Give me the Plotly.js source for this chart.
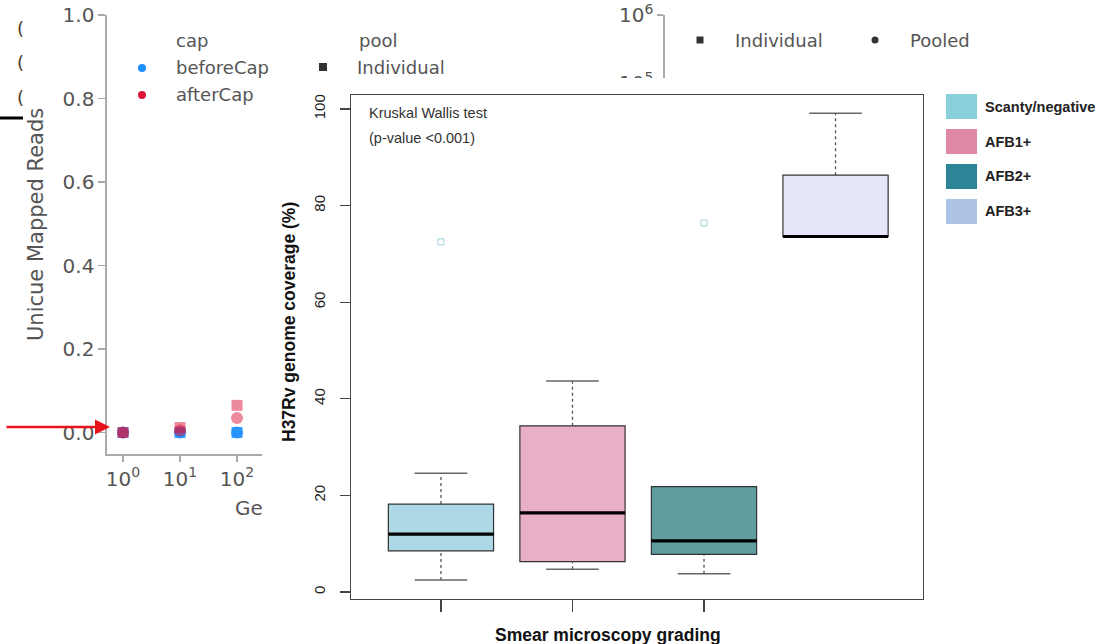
<!DOCTYPE html>
<html><head><meta charset="utf-8">
<script src="https://cdn.plot.ly/plotly-3.0.1.min.js"></script>
<style>
html,body{margin:0;padding:0;background:#fff;overflow:hidden;}
#bg{position:absolute;left:0;top:0;width:1100px;height:644px;}
#fg{position:absolute;left:262px;top:78px;width:838px;height:566px;}
</style></head><body>
<div id="bg"></div><div id="fg"></div>
<script>
// ---------- background chart data ----------
const genomes = [1, 10, 100];
const beforeCapIndividual = [0, 0, 0];
const beforeCapPooled = [0, 0, 0];
const afterCapIndividual = [0, 0.012, 0.065];
const afterCapPooled = [0, 0.005, 0.035];
const leftYTicks = [0, 0.2, 0.4, 0.6, 0.8, 1.0];
const leftXTicks = [1, 10, 100];
const leftXTickText = ['10<sup>0</sup>', '10<sup>1</sup>', '10<sup>2</sup>'];
const rightYTicks = [1e5, 1e6];
const rightYTickText = ['10<sup>5</sup>', '10<sup>6</sup>'];
const capLabels = ['beforeCap', 'afterCap'];
const poolLabels = ['Individual', 'Pooled'];

// ---------- boxplot data ----------
const groups = ['Scanty/negative', 'AFB1+', 'AFB2+', 'AFB3+'];
const positions = [1, 2, 3, 4];
const lowerWhisker = [2.5, 4.7, 3.8, 73.6];
const q1 = [8.5, 6.3, 7.8, 73.6];
const median = [12.0, 16.4, 10.6, 73.6];
const q3 = [18.2, 34.4, 21.8, 86.3];
const upperWhisker = [24.6, 43.7, 21.8, 99.1];
const outlierPos = [1, 3];
const outlierValue = [72.5, 76.4];
const coverageTicks = [0, 20, 40, 60, 80, 100];
const xTickPos = [1, 2, 3];

const boxFill = ['#add8e6', '#e8afc7', '#5f9ea0', '#e6e6fa'];
const legendFill = ['#88cfdc', '#df88a8', '#2c8597', '#adc3e5'];

// ================= BACKGROUND =================
const W = 1100, H = 644;
const px = x => x / W, py = y => 1 - y / H;
const grey = '#555', axisGrey = '#aaa';
const dv = 'DejaVu Sans';

const blue = 'rgba(30,144,255,0.8)', red = 'rgba(220,20,60,0.5)';
const bgTraces = [
  {type:'scatter', mode:'markers', x:genomes, y:beforeCapPooled, marker:{symbol:'circle', size:12, color:blue}, hoverinfo:'skip'},
  {type:'scatter', mode:'markers', x:genomes, y:beforeCapIndividual, marker:{symbol:'square', size:11, color:blue}, hoverinfo:'skip'},
  {type:'scatter', mode:'markers', x:genomes, y:afterCapIndividual, marker:{symbol:'square', size:11, color:red}, hoverinfo:'skip'},
  {type:'scatter', mode:'markers', x:genomes, y:afterCapPooled, marker:{symbol:'circle', size:12, color:red}, hoverinfo:'skip'},
  {type:'scatter', mode:'markers', x:[], y:[], xaxis:'x2', yaxis:'y2', hoverinfo:'skip'}
];

const axCommon = {showgrid:false, zeroline:false, showline:true, linecolor:axisGrey, linewidth:1.6,
  ticks:'outside', tickcolor:axisGrey, tickwidth:1.4, tickfont:{family:dv, size:20, color:grey}};

const bgShapes = [
  {type:'line', xref:'paper', yref:'paper', x0:px(0), x1:px(23), y0:py(118), y1:py(118), line:{color:'#000', width:3}},
  {type:'circle', xref:'paper', yref:'paper', x0:px(138), x1:px(146), y0:py(64), y1:py(72), fillcolor:'#1e90ff', line:{width:0}},
  {type:'circle', xref:'paper', yref:'paper', x0:px(138), x1:px(146), y0:py(91), y1:py(99), fillcolor:'#dc143c', line:{width:0}},
  {type:'rect', xref:'paper', yref:'paper', x0:px(319), x1:px(327), y0:py(63), y1:py(71), fillcolor:'#333', line:{width:0}},
  {type:'rect', xref:'paper', yref:'paper', x0:px(696.5), x1:px(703.5), y0:py(36.5), y1:py(43.5), fillcolor:'#333', line:{width:0}},
  {type:'circle', xref:'paper', yref:'paper', x0:px(871.5), x1:px(878.5), y0:py(36.5), y1:py(43.5), fillcolor:'#333', line:{width:0}}
];

const t = (text, x, y, opts) => Object.assign({text, xref:'paper', yref:'paper', x:px(x), y:py(y), showarrow:false,
  xanchor:'left', yanchor:'middle', font:{family:dv, size:18, color:grey}}, opts || {});

const bgAnn = [
  t('cap', 174, 40),
  t(capLabels[0], 174, 67),
  t(capLabels[1], 174, 95),
  t('pool', 357, 40),
  t(poolLabels[0], 355, 67),
  t(poolLabels[0], 733, 40),
  t(poolLabels[1], 908, 40),
  t('Unicue Mapped Reads', 36, 225, {xanchor:'center', textangle:-90, font:{family:dv, size:21, color:grey}}),
  t('Genome Equivalents', 233, 508, {font:{family:dv, size:20, color:grey}}),
  t('(', 15, 29, {font:{family:dv, size:18, color:'#4a3b28'}}),
  t('(', 15, 63, {font:{family:dv, size:18, color:'#4a3b28'}}),
  t('(', 15, 97, {font:{family:dv, size:18, color:'#4a3b28'}}),
  {text:'', xref:'paper', yref:'paper', x:px(110), y:py(427), ax:-105, ay:0, showarrow:true,
   arrowhead:2, arrowsize:1.2, arrowwidth:2.5, arrowcolor:'#e8141c', standoff:0}
];

const bgLayout = {
  width:W, height:H, margin:{l:0, r:0, t:0, b:0}, paper_bgcolor:'#fff', plot_bgcolor:'rgba(0,0,0,0)',
  showlegend:false,
  xaxis:Object.assign({}, axCommon, {type:'log', domain:[px(107), px(340)], range:[-0.281, 3.807], anchor:'y',
    tickvals:leftXTicks, ticktext:leftXTickText, ticklen:6}),
  yaxis:Object.assign({}, axCommon, {domain:[py(454), py(15)], range:[-0.0515, 1.0], anchor:'x',
    tickvals:leftYTicks, tickformat:'.1f', ticklen:7}),
  xaxis2:{domain:[px(665), 1], anchor:'y2', visible:false, range:[0, 1]},
  yaxis2:Object.assign({}, axCommon, {type:'log', domain:[py(400), py(15)], range:[0.338, 6], anchor:'x2',
    tickvals:rightYTicks, ticktext:rightYTickText, ticklen:6}),
  shapes:bgShapes, annotations:bgAnn
};
Plotly.newPlot('bg', bgTraces, bgLayout, {displayModeBar:false, staticPlot:true});

// ================= FOREGROUND BOXPLOT =================
const X2 = a => (a - 351) / 572, Y2 = a => (599 - a) / 504;
const hv = 'Liberation Sans, Arial, Helvetica, sans-serif';
const halfBox = 0.4, halfCap = 0.2;

const fgTraces = [];
positions.forEach((p, i) => {
  fgTraces.push({type:'box', x:[p], q1:[q1[i]], median:[median[i]], q3:[q3[i]],
    lowerfence:[q1[i]], upperfence:[q3[i]], width:0.8, whiskerwidth:0, boxpoints:false,
    fillcolor:boxFill[i], line:{color:'#333', width:1.2}, hoverinfo:'skip', name:groups[i]});
});
const wx = [], wy = [], cx = [], cy = [], mx = [], my = [];
positions.forEach((p, i) => {
  if (lowerWhisker[i] < q1[i]) { wx.push(p, p, null); wy.push(lowerWhisker[i], q1[i], null);
    cx.push(p - halfCap, p + halfCap, null); cy.push(lowerWhisker[i], lowerWhisker[i], null); }
  if (upperWhisker[i] > q3[i]) { wx.push(p, p, null); wy.push(q3[i], upperWhisker[i], null);
    cx.push(p - halfCap, p + halfCap, null); cy.push(upperWhisker[i], upperWhisker[i], null); }
  mx.push(p - halfBox, p + halfBox, null); my.push(median[i], median[i], null);
});
fgTraces.push({type:'scatter', mode:'lines', x:wx, y:wy, line:{color:'#555', width:1.3, dash:'3px,3px'}, hoverinfo:'skip'});
fgTraces.push({type:'scatter', mode:'lines', x:cx, y:cy, line:{color:'#666', width:1.5}, hoverinfo:'skip'});
fgTraces.push({type:'scatter', mode:'lines', x:mx, y:my, line:{color:'#000', width:3.2}, hoverinfo:'skip'});
fgTraces.push({type:'scatter', mode:'markers', x:outlierPos, y:outlierValue,
  marker:{symbol:'square-open', size:6, color:'#9fcfd8', line:{width:1}}, hoverinfo:'skip'});

const fgShapes = [], fgAnn = [];
groups.forEach((g, i) => {
  const top = 94 + 35 * i;
  fgShapes.push({type:'rect', xref:'paper', yref:'paper', x0:X2(946), x1:X2(977), y0:Y2(top + 25), y1:Y2(top),
    fillcolor:legendFill[i], line:{width:0}});
  fgAnn.push({text:'<b>' + g + '</b>', xref:'paper', yref:'paper', x:X2(983), y:Y2(top + 12.5), showarrow:false,
    xanchor:'left', yanchor:'middle', font:{family:hv, size:14.5, color:'#222'}});
});
fgAnn.push({text:'Kruskal Wallis test', xref:'paper', yref:'paper', x:X2(367), y:Y2(113), showarrow:false,
  xanchor:'left', yanchor:'middle', font:{family:hv, size:14.5, color:'#333'}});
fgAnn.push({text:'(p-value &lt;0.001)', xref:'paper', yref:'paper', x:X2(367), y:Y2(138), showarrow:false,
  xanchor:'left', yanchor:'middle', font:{family:hv, size:14.5, color:'#333'}});
fgAnn.push({text:'<b>H37Rv genome coverage (%)</b>', xref:'paper', yref:'paper', x:X2(289), y:Y2(322), showarrow:false,
  xanchor:'center', yanchor:'middle', textangle:-90, font:{family:hv, size:17.5, color:'#111'}});
fgAnn.push({text:'<b>Smear microscopy grading</b>', xref:'paper', yref:'paper', x:X2(607.5), y:Y2(635), showarrow:false,
  xanchor:'center', yanchor:'middle', font:{family:hv, size:17.5, color:'#111'}});

const fgLayout = {
  width:838, height:566, margin:{l:89, r:177, t:17, b:45}, paper_bgcolor:'#fff', plot_bgcolor:'#fff',
  showlegend:false, boxmode:'overlay',
  xaxis:{range:[0.316, 4.665], tickvals:xTickPos, showticklabels:false, ticks:'outside', ticklen:12,
    tickcolor:'#444', tickwidth:1.3, showline:true, mirror:true, linecolor:'#444', linewidth:1.3,
    showgrid:false, zeroline:false},
  yaxis:{range:[-1.45, 102.9], tickvals:coverageTicks, ticks:'outside', ticklen:10, tickcolor:'#444', tickwidth:1.3,
    tickangle:-90, ticklabelstandoff:9, tickfont:{family:hv, size:15, color:'#222'},
    showline:true, mirror:true, linecolor:'#444', linewidth:1.3, showgrid:false, zeroline:false},
  shapes:fgShapes, annotations:fgAnn
};
Plotly.newPlot('fg', fgTraces, fgLayout, {displayModeBar:false, staticPlot:true});
</script>
</body></html>
